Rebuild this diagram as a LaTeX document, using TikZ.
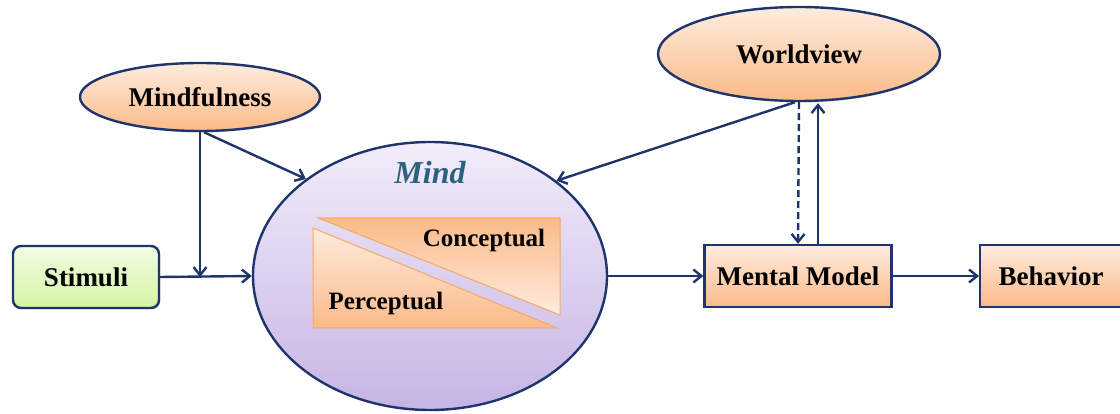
\documentclass[tikz,border=0pt]{standalone}
\usepackage{fontspec}
\setmainfont{Liberation Serif}
\usetikzlibrary{arrows.meta,shapes.geometric,shadows}

\definecolor{navy}{RGB}{31,52,108}
\definecolor{orangeL}{RGB}{254,236,222}
\definecolor{orangeD}{RGB}{250,186,136}
\definecolor{greenL}{RGB}{242,252,228}
\definecolor{greenD}{RGB}{212,244,164}
\definecolor{lavL}{RGB}{242,237,250}
\definecolor{lavD}{RGB}{198,180,228}
\definecolor{triedge}{RGB}{246,168,100}
\definecolor{tealtext}{RGB}{44,98,128}

\tikzset{
  x=1pt, y=-1pt,
  lbl/.style={font=\fontsize{27}{31}\selectfont\bfseries, text=black},
  oval/.style={ellipse, draw=navy, line width=2.4pt, inner sep=0pt,
    top color=orangeL, bottom color=orangeD, lbl,
    drop shadow={opacity=0.2, shadow xshift=1.5pt, shadow yshift=-1.5pt}},
  orbox/.style={rectangle, draw=navy, line width=2.4pt, inner sep=0pt,
    top color=orangeL, bottom color=orangeD, lbl,
    drop shadow={opacity=0.2, shadow xshift=1.5pt, shadow yshift=-1.5pt}},
  grbox/.style={rectangle, rounded corners=8pt, draw=navy, line width=2.4pt, inner sep=0pt,
    top color=greenL, bottom color=greenD, lbl,
    drop shadow={opacity=0.2, shadow xshift=1.5pt, shadow yshift=-1.5pt}},
  arr/.style={draw=navy, line width=2.4pt, -{Straight Barb[length=8pt,width=13pt,line width=2.4pt]}},
  tri/.style={draw=triedge, line width=1pt},
  trilbl/.style={font=\fontsize{25}{29}\selectfont\bfseries, text=black},
}

\begin{document}
\begin{tikzpicture}
\useasboundingbox (0,0) rectangle (1120,414);

% main nodes
\node[oval, minimum width=240pt, minimum height=68pt] (mf) at (200,97) {Mindfulness};
\node[oval, minimum width=282pt, minimum height=94pt] (wv) at (799,54) {Worldview};
\node[grbox, minimum width=146pt, minimum height=62pt] (stim) at (86,277) {Stimuli};
\node[ellipse, draw=navy, line width=2.4pt, inner sep=0pt,
      top color=lavL, bottom color=lavD,
      minimum width=354pt, minimum height=268pt] (mind) at (430,276) {};
\node[orbox, minimum width=187pt, minimum height=62pt] (mm) at (798,276) {Mental Model};
\node[orbox, minimum width=150pt, minimum height=62pt, anchor=west] (beh) at (979,276) {Behavior\hspace*{8pt}};

% inside the mind: two triangles
\shade[tri, top color=orangeD, bottom color=orangeL] (318,218) -- (560,218) -- (560,315) -- cycle;
\shade[tri, top color=orangeL, bottom color=orangeD] (313,228) -- (313,328) -- (557,328) -- cycle;
\node[font=\fontsize{32}{36}\selectfont\bfseries\itshape, text=tealtext] (mindlbl) at (430,173) {Mind};
\node[trilbl] (conc) at (484,240) {Conceptual};
\node[trilbl] (perc) at (386,303) {Perceptual};

% connectors
\coordinate (join) at (200,277);
\draw[arr] (stim.east) -- (mind.west);
\draw[arr] (mf.south) -- (join);
\draw[arr] ([xshift=4pt]mf.south) -- (mind.142.5);
\draw[arr] ([xshift=-4pt]wv.south) -- (mind.37.5);
\draw[arr, dash pattern=on 7pt off 4pt] (wv.south) -- (mm.north);
\draw[arr] ([xshift=20pt]mm.north) -- ([xshift=19pt,yshift=-1pt]wv.south);
\draw[arr] (mind.east) -- (mm.west);
\draw[arr] (mm.east) -- (beh.west);
\end{tikzpicture}
\end{document}
